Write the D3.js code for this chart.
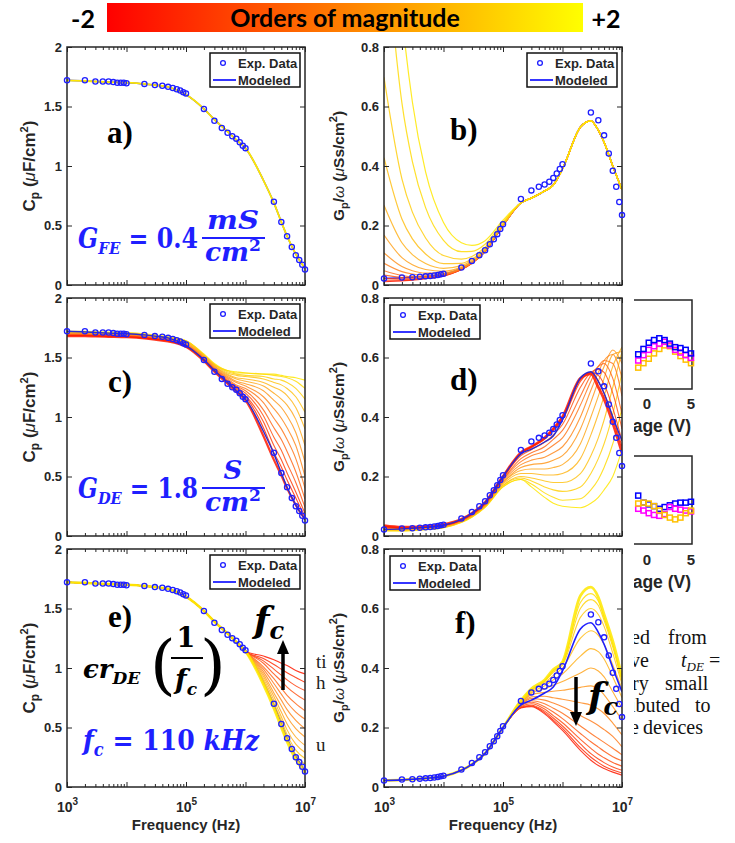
<!DOCTYPE html>
<html>
<head>
<meta charset="utf-8">
<script src="https://cdn.jsdelivr.net/npm/d3@7"></script>
<style>
  body { margin: 0; background: #fff; }
  svg { display: block; font-family: "Liberation Sans", Arial, sans-serif; }
</style>
</head>
<body>
<main></main>
<script>
// Cp and Gp/w vs frequency, with model sweeps (leakage, DE conductance, cutoff freq).

// Measured points (no 2 MHz point in the data set).
const expFreq = [1e3,2e3,3e3,4e3,5e3,6e3,7e3,8e3,9e3,1e4,
                 2e4,3e4,4e4,5e4,6e4,7e4,8e4,9e4,1e5,
                 2e5,3e5,4e5,5e5,6e5,7e5,8e5,9e5,1e6,
                 3e6,4e6,5e6,6e6,7e6,8e6,9e6,1e7];
const expCp = [1.72,1.72,1.71,1.71,1.71,1.705,1.70,1.70,1.70,1.695,
               1.69,1.68,1.675,1.665,1.655,1.645,1.635,1.62,1.61,
               1.48,1.38,1.32,1.28,1.25,1.23,1.20,1.17,1.15,
               0.70,0.53,0.41,0.32,0.25,0.21,0.17,0.13];
const expG = [0.022,0.025,0.026,0.028,0.029,0.030,0.032,0.034,0.036,0.038,
              0.059,0.081,0.100,0.117,0.137,0.154,0.171,0.188,0.204,
              0.289,0.318,0.330,0.338,0.347,0.360,0.375,0.390,0.406,
              0.580,0.554,0.503,0.442,0.384,0.330,0.279,0.235];

// Model grid.
const modelFreq = [1e3,2e3,3e3,5e3,1e4,2e4,3e4,5e4,1e5,2e5,3e5,5e5,7e5,1e6,2e6,3e6,4e6,5e6,7e6,1e7];
const modelCp = [1.72,1.715,1.71,1.705,1.70,1.69,1.68,1.665,1.60,1.48,1.39,1.29,1.22,1.15,0.88,0.69,0.53,0.41,0.26,0.14];
const modelG  = [0.022,0.024,0.026,0.029,0.036,0.056,0.076,0.113,0.20,0.276,0.292,0.316,0.336,0.39,0.531,0.552,0.52,0.48,0.40,0.32];

// b) G_FE sweep, red -> yellow. Values up to 100 kHz, above that they sit on modelG.
const bLow = [
  [0.011,0.014,0.016,0.021,0.030,0.052,0.073,0.113,0.200],
  [0.016,0.016,0.018,0.022,0.031,0.052,0.073,0.113,0.200],
  [0.023,0.020,0.020,0.023,0.032,0.053,0.074,0.113,0.200],
  [0.033,0.025,0.023,0.025,0.033,0.053,0.074,0.114,0.200],
  [0.048,0.032,0.028,0.028,0.034,0.054,0.074,0.114,0.200],
  [0.073,0.045,0.037,0.033,0.037,0.055,0.075,0.114,0.200],
  [0.108,0.062,0.048,0.040,0.040,0.057,0.076,0.115,0.200],
  [0.168,0.092,0.068,0.052,0.046,0.060,0.078,0.116,0.200],
  [0.268,0.142,0.102,0.072,0.056,0.065,0.082,0.118,0.203],
  [0.428,0.222,0.155,0.104,0.072,0.073,0.087,0.121,0.204],
  [0.698,0.357,0.245,0.158,0.099,0.087,0.096,0.127,0.207],
  [1.208,0.612,0.415,0.260,0.150,0.112,0.113,0.137,0.212],
  [1.808,0.912,0.615,0.380,0.210,0.142,0.133,0.149,0.218]
];

// c) G_DE sweep on Cp, red -> yellow.
const cCurves = [
  [1.680,1.680,1.677,1.674,1.670,1.660,1.650,1.635,1.59,1.47,1.38,1.28,1.21,1.14,0.84,0.64,0.51,0.40,0.26,0.14],
  [1.683,1.683,1.680,1.677,1.673,1.663,1.653,1.638,1.59,1.48,1.39,1.29,1.23,1.17,0.91,0.70,0.58,0.47,0.32,0.16],
  [1.686,1.686,1.683,1.680,1.676,1.666,1.656,1.641,1.60,1.48,1.39,1.30,1.24,1.18,0.96,0.76,0.64,0.53,0.37,0.19],
  [1.689,1.689,1.686,1.683,1.679,1.669,1.659,1.644,1.60,1.48,1.40,1.30,1.25,1.20,1.01,0.83,0.72,0.61,0.45,0.24],
  [1.692,1.692,1.689,1.686,1.682,1.672,1.662,1.647,1.60,1.49,1.40,1.31,1.26,1.22,1.06,0.91,0.81,0.71,0.54,0.31],
  [1.695,1.695,1.692,1.689,1.685,1.675,1.665,1.650,1.61,1.49,1.41,1.32,1.27,1.24,1.12,0.99,0.90,0.81,0.65,0.40],
  [1.698,1.698,1.695,1.692,1.688,1.678,1.668,1.653,1.61,1.50,1.41,1.33,1.29,1.26,1.17,1.07,0.99,0.91,0.76,0.50],
  [1.701,1.701,1.698,1.695,1.691,1.681,1.671,1.656,1.62,1.50,1.42,1.34,1.30,1.28,1.22,1.14,1.08,1.01,0.87,0.62],
  [1.704,1.704,1.701,1.698,1.694,1.684,1.674,1.659,1.62,1.51,1.43,1.35,1.32,1.30,1.26,1.20,1.15,1.10,0.98,0.76],
  [1.707,1.707,1.704,1.701,1.697,1.687,1.677,1.662,1.63,1.51,1.43,1.36,1.33,1.32,1.29,1.25,1.22,1.18,1.08,0.90],
  [1.710,1.710,1.707,1.704,1.700,1.690,1.680,1.665,1.63,1.52,1.44,1.37,1.35,1.34,1.32,1.29,1.27,1.24,1.17,1.04],
  [1.713,1.713,1.710,1.707,1.703,1.693,1.683,1.668,1.64,1.52,1.44,1.38,1.36,1.35,1.34,1.32,1.31,1.29,1.24,1.15],
  [1.716,1.716,1.713,1.710,1.706,1.696,1.686,1.671,1.64,1.52,1.44,1.39,1.37,1.37,1.36,1.35,1.34,1.33,1.30,1.24],
  [1.720,1.720,1.717,1.714,1.710,1.700,1.690,1.675,1.64,1.53,1.45,1.39,1.38,1.37,1.36,1.36,1.35,1.34,1.33,1.31]
];

// d) G_DE sweep on Gp/w, red -> yellow.
const dCurves = [
  [0.035,0.030,0.030,0.032,0.038,0.056,0.076,0.113,0.200,0.280,0.300,0.330,0.360,0.400,0.530,0.545,0.500,0.460,0.380,0.280],
  [0.034,0.029,0.029,0.031,0.037,0.055,0.075,0.112,0.200,0.280,0.300,0.330,0.360,0.400,0.530,0.550,0.520,0.480,0.400,0.300],
  [0.032,0.028,0.028,0.030,0.036,0.054,0.074,0.110,0.200,0.275,0.300,0.325,0.355,0.390,0.520,0.550,0.540,0.510,0.430,0.320],
  [0.031,0.027,0.027,0.030,0.036,0.054,0.073,0.109,0.195,0.270,0.290,0.315,0.340,0.375,0.500,0.550,0.560,0.550,0.480,0.360],
  [0.030,0.026,0.026,0.029,0.035,0.053,0.072,0.108,0.190,0.260,0.280,0.300,0.325,0.355,0.470,0.540,0.570,0.580,0.530,0.410],
  [0.028,0.025,0.026,0.028,0.034,0.052,0.071,0.107,0.190,0.250,0.270,0.285,0.305,0.330,0.440,0.520,0.570,0.590,0.580,0.470],
  [0.027,0.024,0.025,0.027,0.033,0.051,0.070,0.105,0.185,0.240,0.255,0.265,0.280,0.300,0.400,0.490,0.550,0.590,0.610,0.530],
  [0.026,0.023,0.024,0.026,0.032,0.050,0.069,0.104,0.180,0.230,0.240,0.245,0.255,0.270,0.360,0.450,0.520,0.570,0.625,0.580],
  [0.025,0.022,0.023,0.026,0.032,0.050,0.068,0.103,0.180,0.220,0.225,0.225,0.230,0.240,0.310,0.400,0.470,0.530,0.610,0.620],
  [0.023,0.021,0.022,0.025,0.031,0.049,0.067,0.101,0.175,0.210,0.210,0.205,0.205,0.210,0.260,0.340,0.410,0.470,0.570,0.635],
  [0.022,0.020,0.021,0.024,0.030,0.048,0.066,0.100,0.170,0.200,0.195,0.185,0.180,0.180,0.210,0.270,0.330,0.390,0.500,0.620],
  [0.021,0.019,0.020,0.023,0.029,0.047,0.065,0.099,0.170,0.195,0.185,0.165,0.155,0.150,0.165,0.210,0.260,0.310,0.410,0.550],
  [0.019,0.018,0.019,0.022,0.028,0.046,0.064,0.097,0.165,0.190,0.175,0.145,0.130,0.120,0.125,0.155,0.190,0.230,0.310,0.430],
  [0.018,0.017,0.018,0.021,0.028,0.045,0.063,0.096,0.165,0.190,0.165,0.130,0.110,0.100,0.095,0.110,0.130,0.155,0.200,0.290]
];

// e) f_c sweep on Cp, red -> yellow, from 1 MHz up (below that they sit on modelCp).
const eHigh = [
  [1.14,1.10,1.07,1.04,1.02,0.98,0.95],
  [1.14,1.08,1.03,0.99,0.96,0.92,0.88],
  [1.14,1.06,0.99,0.94,0.90,0.85,0.81],
  [1.14,1.04,0.95,0.89,0.84,0.78,0.73],
  [1.14,1.01,0.91,0.83,0.77,0.70,0.64],
  [1.14,0.99,0.87,0.78,0.71,0.63,0.57],
  [1.14,0.97,0.83,0.73,0.65,0.56,0.49],
  [1.14,0.95,0.79,0.68,0.59,0.49,0.42],
  [1.14,0.93,0.76,0.63,0.53,0.42,0.35],
  [1.14,0.91,0.73,0.59,0.48,0.36,0.29],
  [1.14,0.89,0.70,0.56,0.44,0.31,0.24],
  [1.14,0.88,0.68,0.53,0.41,0.27,0.19],
  [1.14,0.87,0.67,0.51,0.39,0.25,0.15],
  [1.14,0.86,0.66,0.50,0.38,0.23,0.12]
];

// f) f_c sweep on Gp/w, red -> yellow, from 200 kHz up (below that they sit on modelG).
const fHigh = [
  [0.266,0.270,0.246,0.220,0.190,0.123,0.090,0.072,0.062,0.050,0.040],
  [0.267,0.272,0.250,0.225,0.197,0.132,0.100,0.082,0.070,0.057,0.047],
  [0.268,0.275,0.255,0.232,0.205,0.145,0.112,0.094,0.082,0.067,0.056],
  [0.270,0.280,0.262,0.240,0.216,0.160,0.130,0.110,0.098,0.082,0.070],
  [0.272,0.285,0.270,0.252,0.230,0.180,0.152,0.134,0.120,0.102,0.088],
  [0.274,0.290,0.280,0.265,0.248,0.205,0.180,0.163,0.150,0.130,0.108],
  [0.276,0.297,0.292,0.282,0.270,0.240,0.222,0.207,0.193,0.170,0.135],
  [0.278,0.303,0.305,0.300,0.295,0.283,0.275,0.262,0.247,0.215,0.175],
  [0.280,0.310,0.318,0.322,0.325,0.335,0.340,0.330,0.310,0.270,0.225],
  [0.282,0.315,0.330,0.342,0.355,0.383,0.400,0.390,0.370,0.320,0.265],
  [0.284,0.318,0.340,0.360,0.380,0.440,0.465,0.455,0.430,0.370,0.300],
  [0.286,0.322,0.350,0.375,0.400,0.500,0.525,0.510,0.480,0.410,0.330],
  [0.288,0.325,0.355,0.385,0.410,0.570,0.600,0.580,0.540,0.450,0.345],
  [0.289,0.327,0.357,0.390,0.415,0.600,0.630,0.610,0.560,0.470,0.355],
  [0.290,0.328,0.358,0.392,0.418,0.620,0.650,0.625,0.570,0.480,0.360],
  [0.290,0.330,0.360,0.395,0.420,0.643,0.672,0.638,0.580,0.490,0.370]
];

// Bits of a neighbouring figure that show through on the right.
const insetV = [-1,-0.4,0.2,0.8,1.4,2,2.6,3.2,3.8,4.4,5];
const inset1Blue    = [0.39,0.45,0.52,0.55,0.57,0.55,0.51,0.47,0.46,0.44,0.40];
const inset1Magenta = [0.32,0.38,0.44,0.48,0.51,0.53,0.49,0.44,0.41,0.38,0.35];
const inset1Yellow  = [0.24,0.29,0.34,0.40,0.45,0.49,0.48,0.42,0.37,0.33,0.29];
const inset2Blue    = [0.55,0.47,0.45,0.43,0.40,0.42,0.44,0.46,0.47,0.47,0.48];
const inset2Magenta = [0.40,0.38,0.35,0.33,0.32,0.34,0.42,0.40,0.39,0.38,0.37];
const inset2Yellow  = [0.46,0.47,0.46,0.43,0.38,0.33,0.30,0.28,0.30,0.35,0.38];

const cpTicks = [0, 0.5, 1, 1.5, 2];
const gTicks = [0, 0.2, 0.4, 0.6, 0.8];
const decadeTicks = [1e3, 1e4, 1e5, 1e6, 1e7];
const labelTicks = [1e3, 1e5, 1e7];

let width = 735, height = 843;
let cols = [67, 384], colW = 238;
let rows = [47, 298, 549], rowH = 238;

let axisInk = '#262626';
let blue = '#1f1fff';
let mathFont = '"DejaVu Serif", serif';
let famColor = d3.interpolateRgbBasis(['#ff1a00', '#ff9a30', '#ffe800']);

let svg = d3.select('main').append('svg').attr('width', width).attr('height', height);
let defs = svg.append('defs');

// ---- color bar ----
let grad = defs.append('linearGradient').attr('id', 'cbar');
grad.append('stop').attr('offset', '0%').attr('stop-color', '#ff0000');
grad.append('stop').attr('offset', '50%').attr('stop-color', '#ff8000');
grad.append('stop').attr('offset', '100%').attr('stop-color', '#ffff00');
svg.append('rect').attr('x', 107).attr('y', 3).attr('width', 476).attr('height', 29).attr('fill', 'url(#cbar)');
svg.append('text').attr('x', 345).attr('y', 27).attr('text-anchor', 'middle')
  .attr('font-family', 'Lato, sans-serif').attr('font-weight', 'bold').attr('font-size', 25).text('Orders of magnitude');
svg.append('text').attr('x', 83).attr('y', 28).attr('text-anchor', 'middle')
  .attr('font-family', 'Lato, sans-serif').attr('font-weight', 'bold').attr('font-size', 25).text('-2');
svg.append('text').attr('x', 606).attr('y', 28).attr('text-anchor', 'middle')
  .attr('font-family', 'Lato, sans-serif').attr('font-weight', 'bold').attr('font-size', 25).text('+2');

// ---- panels ----
function panel(col, row, yMax) {
  let x0 = cols[col], y0 = rows[row];
  let x = d3.scaleLog().domain([1e3, 1e7]).range([x0, x0 + colW]);
  let y = d3.scaleLinear().domain([0, yMax]).range([y0 + rowH, y0]);
  let clipId = 'clip' + col + row;
  defs.append('clipPath').attr('id', clipId)
    .append('rect').attr('x', x0).attr('y', y0).attr('width', colW).attr('height', rowH);
  let g = svg.append('g');
  let plot = g.append('g').attr('clip-path', `url(#${clipId})`);
  return { x, y, g, plot, x0, y0, col, row };
}

function lineOn(p) {
  return d3.line().x((d, i) => p.x(modelFreq[i])).y(d => p.y(d)).curve(d3.curveMonotoneX);
}

function drawModel(p, vals, color, w) {
  p.plot.append('path').attr('d', lineOn(p)(vals))
    .attr('fill', 'none').attr('stroke', color).attr('stroke-width', w);
}

// items: [{v, t}] in draw order; t=0 red, t=1 yellow
function drawFamily(p, items, widthOf) {
  p.plot.selectAll(null).data(items).enter().append('path')
    .attr('d', d => lineOn(p)(d.v))
    .attr('fill', 'none')
    .attr('stroke', d => famColor(d.t))
    .attr('stroke-opacity', 0.85)
    .attr('stroke-width', d => widthOf(d.t));
}

function fam(list) { return list.map((v, i) => ({ v, t: i / (list.length - 1) })); }

function styleAxis(sel) {
  sel.select('.domain').remove();
  sel.selectAll('line').attr('stroke', axisInk).attr('stroke-width', 1);
  sel.attr('font-family', '"Liberation Sans", Arial, sans-serif').attr('font-size', 13)
    .attr('font-weight', 'bold').attr('fill', axisInk);
  sel.selectAll('text').attr('fill', axisInk);
}

function axes(p, yTicks, xLabels) {
  let minors = [];
  decadeTicks.slice(0, 4).forEach(d => { for (let m = 2; m < 10; m++) minors.push(d * m); });
  let yb = p.y0 + rowH, xr = p.x0 + colW;

  [[d3.axisBottom, yb], [d3.axisTop, p.y0]].forEach(([ax, ty]) => {
    p.g.append('g').attr('transform', `translate(0,${ty})`)
      .call(ax(p.x).tickValues(decadeTicks).tickSize(-5).tickSizeOuter(0).tickFormat('')).call(styleAxis);
    p.g.append('g').attr('transform', `translate(0,${ty})`)
      .call(ax(p.x).tickValues(minors).tickSize(-3).tickSizeOuter(0).tickFormat('')).call(styleAxis);
  });

  p.g.append('g').attr('transform', `translate(${p.x0},0)`)
    .call(d3.axisLeft(p.y).tickValues(yTicks).tickSize(-5).tickSizeOuter(0).tickPadding(5).tickFormat(d => String(d)))
    .call(styleAxis);
  p.g.append('g').attr('transform', `translate(${xr},0)`)
    .call(d3.axisRight(p.y).tickValues(yTicks).tickSize(-5).tickSizeOuter(0).tickFormat(''))
    .call(styleAxis);

  p.g.append('rect').attr('x', p.x0).attr('y', p.y0).attr('width', colW).attr('height', rowH)
    .attr('fill', 'none').attr('stroke', axisInk).attr('stroke-width', 1.5);

  if (xLabels) {
    let lab = p.g.append('g').attr('transform', `translate(0,${yb})`)
      .call(d3.axisBottom(p.x).tickValues(labelTicks).tickSize(0).tickPadding(0).tickFormat(''));
    lab.call(styleAxis);
    lab.selectAll('.tick text').attr('dy', null).attr('y', 25).attr('font-size', 14)
      .each(function(d) {
        let t = d3.select(this);
        t.append('tspan').text('10');
        t.append('tspan').attr('dy', -7).attr('font-size', 10).text(Math.round(Math.log10(d)));
      });
    p.g.append('text').attr('x', p.x0 + colW / 2).attr('y', yb + 43).attr('text-anchor', 'middle')
      .attr('font-size', 15).attr('font-weight', 'bold').attr('fill', axisInk).text('Frequency (Hz)');
  }
}

function yLabel(p) {
  let left = p.col === 0;
  let cx = left ? 35 : 344;
  let t = svg.append('text').attr('transform', `translate(${cx},${p.y0 + rowH / 2}) rotate(-90)`)
    .attr('text-anchor', 'middle').attr('font-size', left ? 17 : 15.5).attr('font-weight', 'bold').attr('fill', axisInk);
  if (left) {
    t.append('tspan').text('C');
    t.append('tspan').attr('font-size', 12).attr('dy', 4).text('p');
    t.append('tspan').attr('dy', -4).text(' (');
    t.append('tspan').attr('font-style', 'italic').attr('font-weight', 'normal').text('μ');
    t.append('tspan').text('F/cm');
  } else {
    t.append('tspan').text('G');
    t.append('tspan').attr('font-size', 11).attr('dy', 4).text('p');
    t.append('tspan').attr('dy', -4).text('/');
    t.append('tspan').attr('font-style', 'italic').attr('font-weight', 'normal').text('ω');
    t.append('tspan').text(' (');
    t.append('tspan').attr('font-style', 'italic').attr('font-weight', 'normal').text('μ');
    t.append('tspan').text('Ss/cm');
  }
  t.append('tspan').attr('font-size', 11).attr('dy', -7).text('2');
  t.append('tspan').attr('dy', 7).text(')');
}

function expDots(p, vals) {
  p.g.selectAll(null).data(expFreq.map((f, i) => [f, vals[i]])).enter().append('circle')
    .attr('cx', d => p.x(d[0])).attr('cy', d => p.y(d[1])).attr('r', 2.6)
    .attr('fill', 'none').attr('stroke', blue).attr('stroke-width', 1.3);
}

function legend(p, left) {
  let bw = 90, bh = 34;
  let bx = left ? p.x0 + 6 : p.x0 + colW - bw - 5;
  let by = left ? p.y0 + 7 : p.y0 + 6;
  let g = p.g.append('g');
  g.append('rect').attr('x', bx).attr('y', by).attr('width', bw).attr('height', bh)
    .attr('fill', '#fff').attr('stroke', '#111').attr('stroke-width', 1.5);
  g.append('circle').attr('cx', bx + 13).attr('cy', by + 10).attr('r', 2.4)
    .attr('fill', 'none').attr('stroke', blue).attr('stroke-width', 1.3);
  g.append('line').attr('x1', bx + 3).attr('x2', bx + 26).attr('y1', by + 27).attr('y2', by + 27)
    .attr('stroke', blue).attr('stroke-width', 1.8);
  g.append('text').attr('x', bx + 28).attr('y', by + 15).attr('font-size', 13).attr('font-weight', 'bold')
    .attr('fill', axisInk).text('Exp. Data');
  g.append('text').attr('x', bx + 28).attr('y', by + 32).attr('font-size', 13).attr('font-weight', 'bold')
    .attr('fill', axisInk).text('Modeled');
}

function letter(x, y, s) {
  svg.append('text').attr('x', x).attr('y', y).attr('font-family', '"Liberation Serif", serif')
    .attr('font-weight', 'bold').attr('font-size', 31).attr('fill', '#000').text(s);
}

// a) single model, all sweeps overlap
let pa = panel(0, 0, 2);
drawModel(pa, modelCp, blue, 1.5);
drawModel(pa, modelCp, '#ffe800', 1.8);
axes(pa, cpTicks, false);
expDots(pa, expCp);
legend(pa, false);
yLabel(pa);

// b)
let pb = panel(1, 0, 0.8);
drawModel(pb, modelG, blue, 1.5);
drawFamily(pb, fam(bLow.map(c => c.concat(modelG.slice(9)))), t => 1.2);
axes(pb, gTicks, false);
expDots(pb, expG);
legend(pb, false);
yLabel(pb);

// c)
let pc = panel(0, 1, 2);
drawFamily(pc, fam(cCurves).reverse(), t => t === 0 ? 2.2 : 1.1);
drawModel(pc, modelCp, '#2a2ad0', 1.4);
axes(pc, cpTicks, false);
expDots(pc, expCp);
legend(pc, false);
yLabel(pc);

// d)
let pd = panel(1, 1, 0.8);
drawFamily(pd, fam(dCurves).reverse(), t => t === 0 ? 2.8 : 1.1);
drawModel(pd, modelG, '#2a2ad0', 1.4);
axes(pd, gTicks, false);
expDots(pd, expG);
legend(pd, true);
yLabel(pd);

// e)
let pe = panel(0, 2, 2);
drawModel(pe, modelCp, blue, 1.5);
drawFamily(pe, fam(eHigh.map(h => modelCp.slice(0, 13).concat(h))), t => t === 1 ? 2.6 : 1.1);
axes(pe, cpTicks, true);
expDots(pe, expCp);
legend(pe, false);
yLabel(pe);

// f)
let pf = panel(1, 2, 0.8);
drawFamily(pf, fam(fHigh.map(h => modelG.slice(0, 9).concat(h))), t => t === 1 ? 2.8 : 1.1);
drawModel(pf, modelG, blue, 1.6);
axes(pf, gTicks, true);
expDots(pf, expG);
legend(pf, true);
yLabel(pf);

letter(107, 143, 'a)');
letter(450, 140, 'b)');
letter(108, 392, 'c)');
letter(450, 390, 'd)');
letter(108, 627, 'e)');
letter(455, 633, 'f)');

// ---- annotations ----
function mathText(x, y, size, color) {
  return svg.append('text').attr('x', x).attr('y', y).attr('font-family', mathFont)
    .attr('font-weight', 'bold').attr('font-size', size).attr('fill', color);
}

function fraction(cx, yLine, x1, x2, top, bottom, size, color) {
  svg.append('line').attr('x1', x1).attr('x2', x2).attr('y1', yLine).attr('y2', yLine)
    .attr('stroke', color).attr('stroke-width', 2.2);
  mathText(cx, yLine - 9, size, color).attr('text-anchor', 'middle').attr('font-style', 'italic')
    .attr('textLength', top.length > 1 ? 52 : null).attr('lengthAdjust', 'spacingAndGlyphs').text(top);
  let b = mathText(cx, yLine + 23, size, color).attr('text-anchor', 'middle').attr('font-style', 'italic')
    .attr('textLength', 56).attr('lengthAdjust', 'spacingAndGlyphs');
  b.append('tspan').text(bottom);
  b.append('tspan').attr('font-size', size * 0.65).attr('dy', -10).attr('font-style', 'normal').text('2');
}

function conductance(y, sub, value, top) {
  let t = mathText(78, y, 27, blue).attr('textLength', 120).attr('lengthAdjust', 'spacingAndGlyphs');
  t.append('tspan').attr('font-style', 'italic').text('G');
  t.append('tspan').attr('font-style', 'italic').attr('font-size', 17).attr('dy', 6).text(sub);
  t.append('tspan').attr('dy', -6).text(' = ' + value);
  fraction(233, y - 10, 202, 265, top, 'cm', 26, blue);
}
conductance(248, 'FE', '0.4', 'mS');
conductance(498, 'DE', '1.8', 'S');

// e) annotations
let er = mathText(83, 678, 26, '#000').attr('font-style', 'italic');
er.append('tspan').text('ϵr');
er.append('tspan').attr('font-size', 17).attr('dy', 6).text('DE');
svg.append('text').attr('x', 150).attr('y', 687).attr('font-family', mathFont).attr('font-size', 66).text('(');
svg.append('text').attr('x', 200).attr('y', 687).attr('font-family', mathFont).attr('font-size', 66).text(')');
mathText(186, 647, 27, '#000').attr('text-anchor', 'middle').text('1');
svg.append('line').attr('x1', 171).attr('x2', 203).attr('y1', 658).attr('y2', 658).attr('stroke', '#000').attr('stroke-width', 2);
let fcFrac = mathText(186, 689, 27, '#000').attr('text-anchor', 'middle').attr('font-style', 'italic');
fcFrac.append('tspan').text('f');
fcFrac.append('tspan').attr('font-size', 17).attr('dy', 6).text('c');

let fcVal = mathText(83, 750, 28, blue).attr('font-style', 'italic')
  .attr('textLength', 176).attr('lengthAdjust', 'spacingAndGlyphs');
fcVal.append('tspan').text('f');
fcVal.append('tspan').attr('font-size', 18).attr('dy', 6).text('c');
fcVal.append('tspan').attr('dy', -6).attr('font-style', 'normal').text(' = 110 ');
fcVal.append('tspan').text('kHz');

function fcMark(x, y) {
  let t = mathText(x, y, 36, '#000').attr('font-style', 'italic');
  t.append('tspan').text('f');
  t.append('tspan').attr('font-size', 24).attr('dy', 7).text('c');
}
fcMark(254, 632);
fcMark(588, 708);

function arrow(x, yFrom, yTo) {
  let dir = yTo < yFrom ? -1 : 1;
  svg.append('line').attr('x1', x).attr('x2', x).attr('y1', yFrom).attr('y2', yTo - dir * 12)
    .attr('stroke', '#000').attr('stroke-width', 3.5);
  svg.append('path').attr('d', `M${x - 6},${yTo - dir * 14} L${x + 6},${yTo - dir * 14} L${x},${yTo} Z`).attr('fill', '#000');
}
arrow(283, 690, 640);
arrow(576, 677, 726);

// ---- neighbouring figure fragments ----
defs.append('clipPath').attr('id', 'rightClip')
  .append('rect').attr('x', 634).attr('y', 280).attr('width', 101).attr('height', 480);
let side = svg.append('g').attr('clip-path', 'url(#rightClip)');

function inset(y0, y1, series, tickY, labY) {
  let ix = d3.scaleLinear().domain([-5, 5]).range([603, 691]);
  let iy = d3.scaleLinear().domain([0, 1]).range([y1, y0]);
  side.append('path').attr('d', `M600,${y0} H692 V${y1} H600`).attr('fill', 'none')
    .attr('stroke', axisInk).attr('stroke-width', 1.5);
  series.forEach(([vals, color]) => {
    side.selectAll(null).data(vals).enter().append('rect')
      .attr('x', (d, i) => ix(insetV[i]) - 2.5).attr('y', d => iy(d) - 2.5)
      .attr('width', 5).attr('height', 5).attr('fill', 'none').attr('stroke', color).attr('stroke-width', 1.5);
  });
  side.selectAll(null).data([0, 5]).enter().append('text')
    .attr('x', d => ix(d)).attr('y', tickY).attr('text-anchor', 'middle')
    .attr('font-size', 15).attr('font-weight', 'bold').attr('fill', axisInk).text(d => d);
  side.append('text').attr('x', 691).attr('y', labY).attr('text-anchor', 'end')
    .attr('font-size', 17.5).attr('font-weight', 'bold').attr('fill', axisInk).text('Voltage (V)');
}
inset(300, 389, [[inset1Yellow, '#ffc000'], [inset1Magenta, '#ff00ff'], [inset1Blue, '#0000ff']], 409, 432);
inset(456, 544, [[inset2Blue, '#0000ff'], [inset2Magenta, '#ff00ff'], [inset2Yellow, '#ffc000']], 565, 588);

function prose(x, y, s) {
  return side.append('text').attr('x', x).attr('y', y).attr('font-family', '"Liberation Serif", serif')
    .attr('font-size', 20).attr('fill', '#111').text(s);
}
prose(631, 644, 'ed');
prose(668, 644, 'from');
prose(630, 667, 've');
let tde = prose(681, 667, '').attr('font-style', 'italic');
tde.append('tspan').text('t');
tde.append('tspan').attr('font-size', 13).attr('dy', 4).text('DE');
tde.append('tspan').attr('dy', -4).attr('font-style', 'normal').text(' =');
prose(632, 690, 'ry');
prose(665, 690, 'small');
prose(630, 712, 'ibuted');
prose(695, 712, 'to');
prose(630, 734, 'e');
prose(643, 734, 'devices');

// fragments in the gap between columns
let gapText = ['ti', 'h', 'u'];
let gapY = [668, 689, 751];
svg.append('g').selectAll('text').data(gapText).enter().append('text')
  .attr('x', 316).attr('y', (d, i) => gapY[i]).attr('font-family', '"Liberation Serif", serif')
  .attr('font-size', 19).attr('fill', '#222').text(d => d);
</script>
</body>
</html>
